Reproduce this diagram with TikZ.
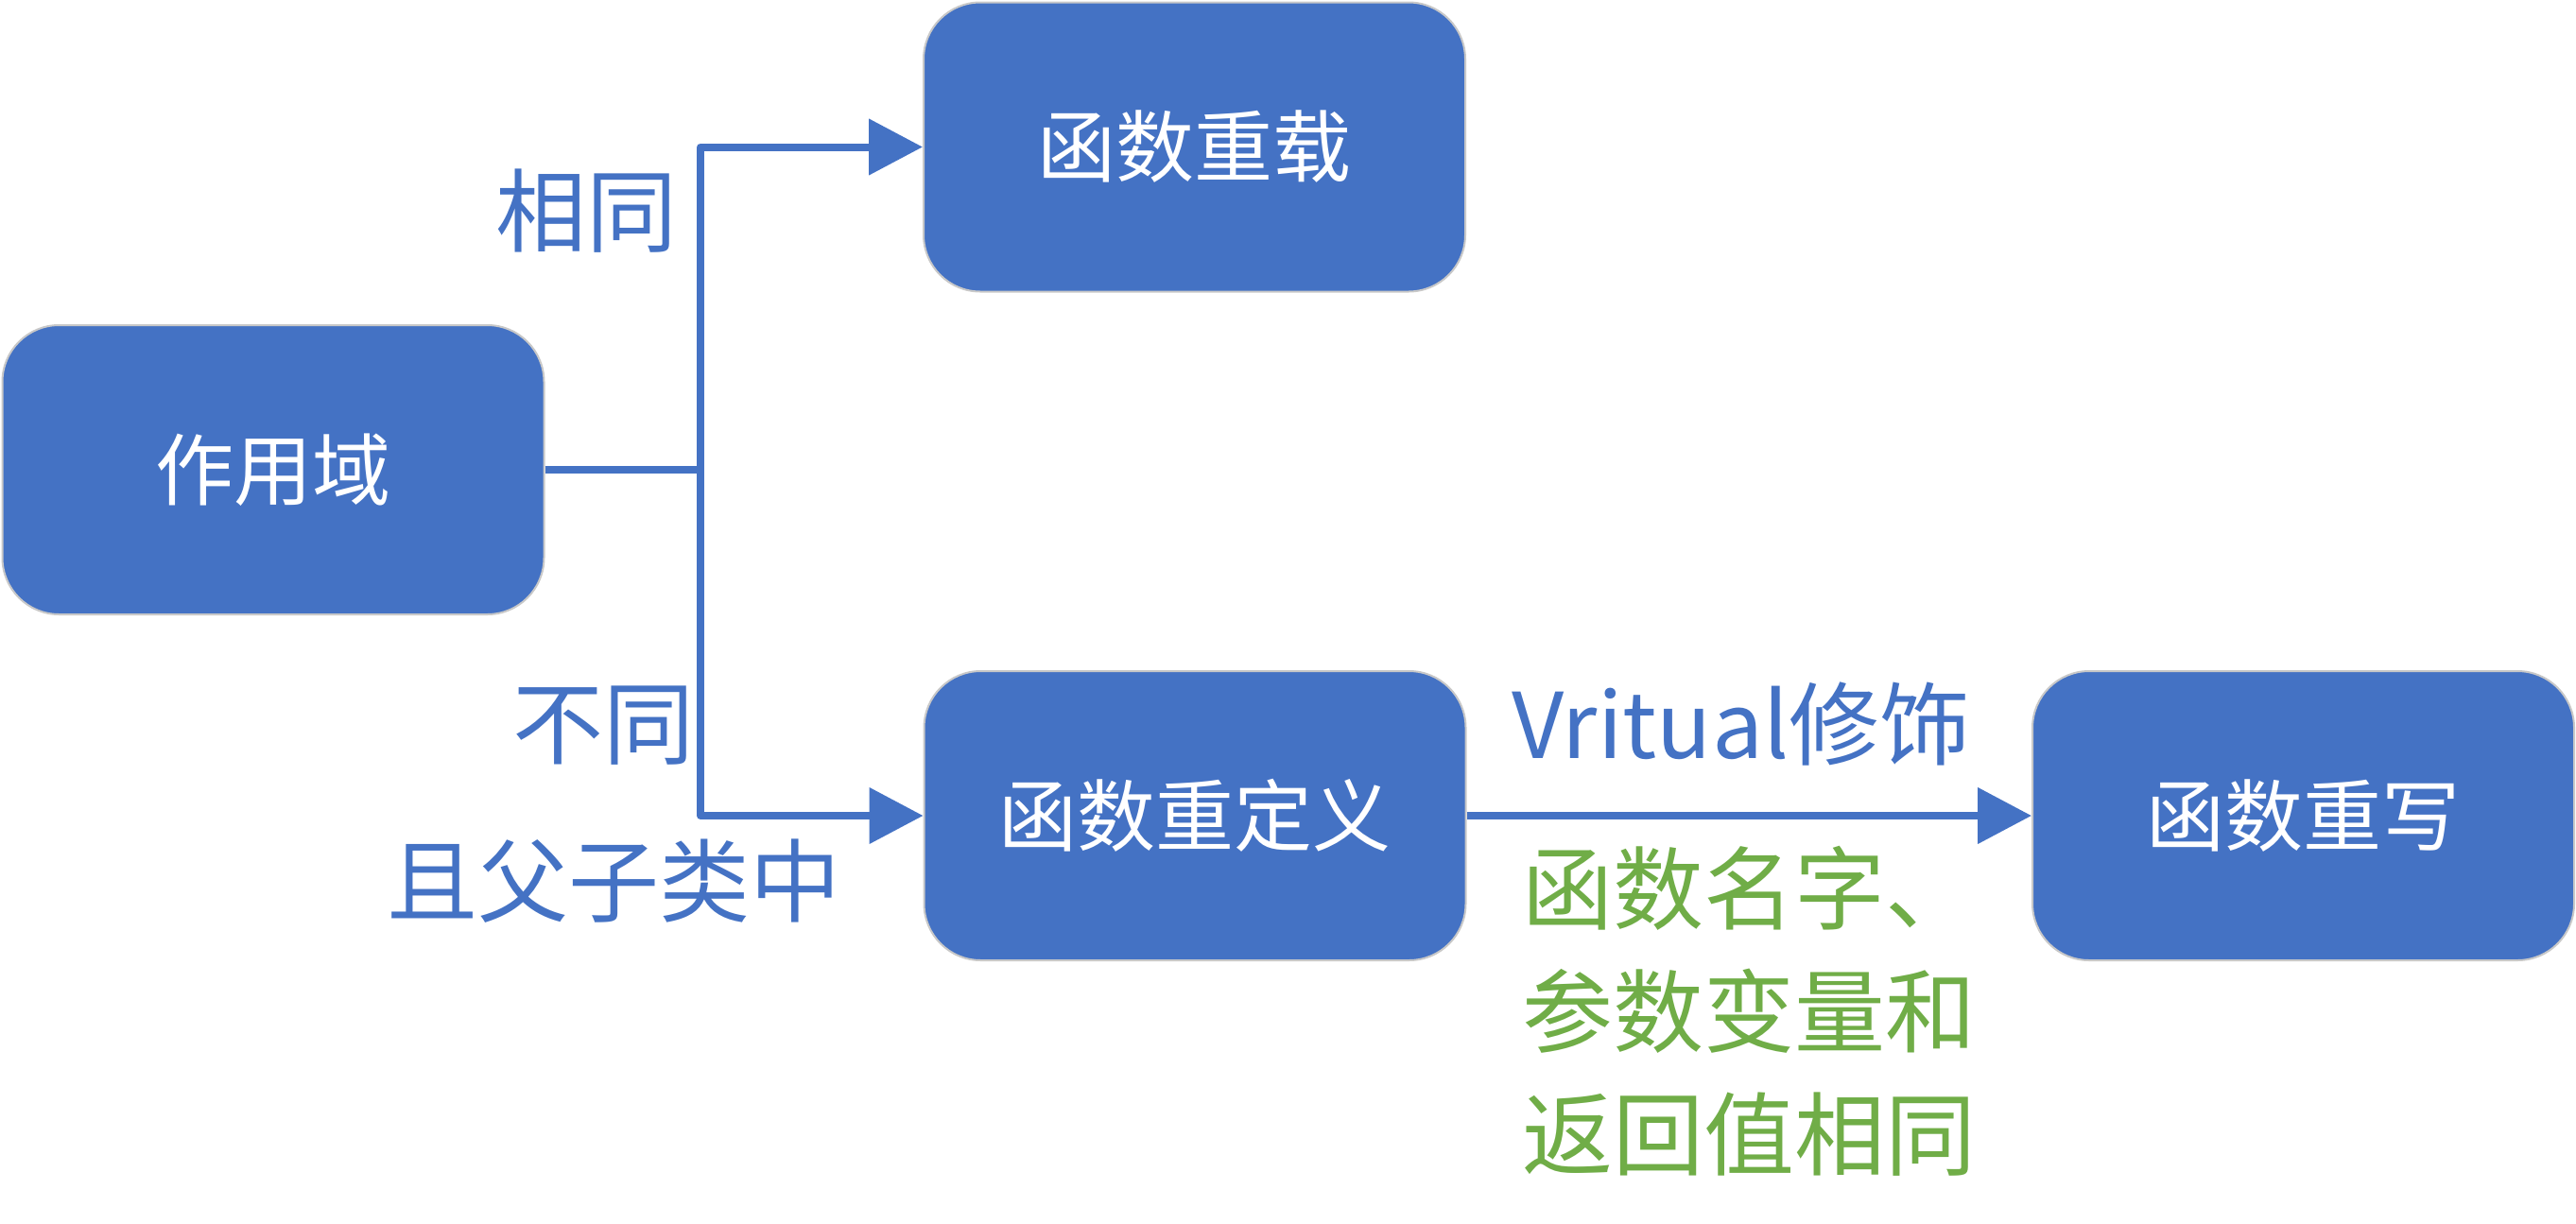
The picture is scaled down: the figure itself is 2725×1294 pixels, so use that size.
\documentclass[tikz,border=0pt]{standalone}
\usepackage{fontspec}
\setmainfont{Noto Sans CJK SC}
\usetikzlibrary{arrows.meta}
\definecolor{boxblue}{HTML}{4472C4}
\definecolor{txtgreen}{HTML}{70AD47}
\definecolor{rimgray}{HTML}{C8C8C8}
\tikzset{
  box/.style={rectangle, rounded corners=60pt, fill=boxblue, draw=rimgray, line width=2pt,
    minimum width=573pt, minimum height=306pt, inner sep=0pt, text=white,
    font=\fontsize{83}{90}\selectfont},
  conn/.style={draw=boxblue, line width=8pt, line join=round},
  arrowconn/.style={conn, -{Triangle[length=57pt,width=58pt]}},
  bluelabel/.style={text=boxblue, inner sep=0pt, font=\fontsize{96}{130}\selectfont},
  greenlabel/.style={text=txtgreen, inner sep=0pt, align=left, font=\fontsize{96}{130}\selectfont}
}
\begin{document}
\begin{tikzpicture}[x=1pt,y=-1pt]
\useasboundingbox (0,0) rectangle (2725,1294);
\node[box] (zuo) at (289,497) {作用域};
\node[box] (chongzai) at (1263.5,155.5) {函数重载};
\node[box] (chongding) at (1264,863) {函数重定义};
\node[box] (chongxie) at (2436.5,863) {函数重写};
\coordinate (fork) at (741,497);
\draw[conn] (zuo.east) -- (fork);
\draw[arrowconn] (fork) |- (chongzai.west);
\draw[arrowconn] (fork) |- (chongding.west);
\draw[arrowconn] (chongding.east) -- (chongxie.west);
\node[bluelabel] (same) at (620,223) {相同};
\node[bluelabel] (diff) at (638,768) {不同};
\node[bluelabel] (parent) at (649,932) {且父子类中};
\node[bluelabel] (virt) at (1842,766) {Vritual修饰};
\node[greenlabel] (cond) at (1850,1070) {函数名字、\\参数变量和\\返回值相同};
\end{tikzpicture}
\end{document}
